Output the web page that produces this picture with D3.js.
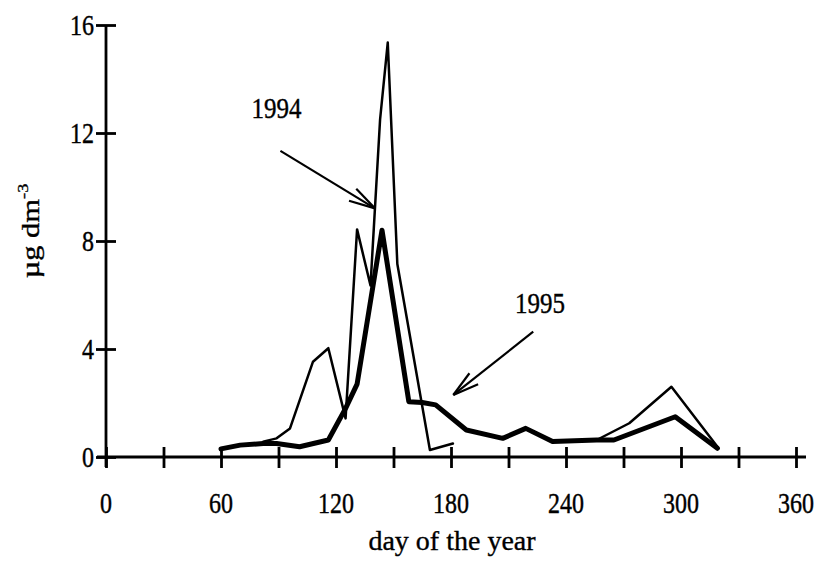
<!DOCTYPE html>
<html><head><meta charset="utf-8">
<script src="https://cdn.jsdelivr.net/npm/d3@7"></script>
<style>
html,body{margin:0;padding:0;background:#fff;}
text{font-family:"Liberation Serif","Times New Roman",serif;fill:#000;stroke:#000;stroke-width:0.35px;}
</style></head>
<body><svg id="c" width="817" height="566"></svg>
<script>
// ---- data ----
const days1994 = [82, 89, 96, 108, 116, 125, 131, 138, 143, 147, 152, 169, 181, 200, 256, 273, 295, 319];
const vals1994 = [0.57, 0.69, 1.06, 3.53, 4.03, 1.43, 8.43, 6.35, 12.5, 15.35, 7.15, 0.26, 0.5, null, 0.63, 1.25, 2.6, 0.38];
const days1995 = [60, 70, 82, 89, 101, 116, 125, 131, 144, 158, 165, 172, 188, 207, 219, 233, 256, 265, 297, 319];
const vals1995 = [0.3, 0.44, 0.5, 0.5, 0.38, 0.63, 1.8, 2.7, 8.4, 2.05, 2.02, 1.93, 1.0, 0.69, 1.06, 0.57, 0.63, 0.63, 1.49, 0.32];
const xTickMinor = [0, 30, 60, 90, 120, 150, 180, 210, 240, 270, 300, 330, 360];
const xTickLabels = [0, 60, 120, 180, 240, 300, 360];
const yTickLabels = [0, 4, 8, 12, 16];
const seriesNames = ["1994", "1995"];
const labelPos = [[89.0, 12.56], [226.4, 5.33]];        // label anchor in data units
const arrowFrom = [[91.0, 11.34], [222.9, 4.64]];
const arrowTo = [[140.3, 9.21], [181.2, 2.30]];
const xTitle = "day of the year";

// ---- drawing ----
const svg = d3.select("#c");
const x = d3.scaleLinear().domain([0, 360]).range([106, 796]);
const y = d3.scaleLinear().domain([0, 16]).range([457, 25]);
const SY = 1.22;

function txt(px, py, s, anchor, fs, sy) {
  return svg.append("text")
    .attr("transform", `translate(${px},${py}) scale(1,${sy || SY})`)
    .attr("text-anchor", anchor || "middle")
    .style("font-size", (fs || 24) + "px")
    .text(s);
}

// x axis
const gx = svg.append("g").attr("transform", `translate(0,${y(0)})`)
  .call(d3.axisBottom(x).tickValues(xTickMinor).tickSize(0).tickFormat(""));
gx.select(".domain").attr("d", `M97,0H806`).attr("stroke", "#000").attr("stroke-width", 2.8);
gx.selectAll(".tick line").attr("y1", -10).attr("y2", 11).attr("stroke", "#000").attr("stroke-width", 2.8);

// y axis
const gy = svg.append("g").attr("transform", `translate(${x(0)},0)`)
  .call(d3.axisLeft(y).tickValues(yTickLabels).tickSize(0).tickFormat(""));
gy.select(".domain").attr("d", `M0,${y(0) + 10}V${y(16)}`).attr("stroke", "#000").attr("stroke-width", 2.8);
gy.selectAll(".tick line").attr("x1", -10).attr("x2", 10).attr("stroke", "#000").attr("stroke-width", 2.8);

// tick labels
xTickLabels.forEach(v => txt(x(v), 513, String(v), "middle"));
yTickLabels.forEach(v => txt(94, y(v) + 10, String(v), "end"));

// titles
txt(452, 550, xTitle, "middle", 28, 1.0);
const yt = svg.append("text")
  .attr("transform", `translate(39,231) rotate(-90) scale(${SY},1)`)
  .attr("text-anchor", "middle")
  .style("font-size", "25px");
yt.append("tspan").text("µg dm");
yt.append("tspan").attr("dy", -11).style("font-size", "15px").text("-3");

// lines
const line = d3.line().defined(d => d[1] !== null).x(d => x(d[0])).y(d => y(d[1]));
const d94 = days1994.map((d, i) => [d, vals1994[i]]);
const d95 = days1995.map((d, i) => [d, vals1995[i]]);
svg.append("path").datum(d95).attr("d", line).attr("fill", "none")
  .attr("stroke", "#000").attr("stroke-width", 5).attr("stroke-linejoin", "round").attr("stroke-linecap", "round");
svg.append("path").datum(d94).attr("d", line).attr("fill", "none")
  .attr("stroke", "#000").attr("stroke-width", 2.5).attr("stroke-linejoin", "round").attr("stroke-linecap", "round");

// annotations
seriesNames.forEach((name, i) => {
  txt(x(labelPos[i][0]), y(labelPos[i][1]), name, "middle", 25);
  const x1 = x(arrowFrom[i][0]), y1 = y(arrowFrom[i][1]);
  const x2 = x(arrowTo[i][0]), y2 = y(arrowTo[i][1]);
  svg.append("line").attr("x1", x1).attr("y1", y1).attr("x2", x2).attr("y2", y2)
    .attr("stroke", "#000").attr("stroke-width", 2.2);
  const ang = Math.atan2(y1 - y2, x1 - x2), L = 27, da = 15 * Math.PI / 180;
  [ang - da, ang + da].forEach(a => {
    svg.append("line").attr("x1", x2).attr("y1", y2)
      .attr("x2", x2 + L * Math.cos(a)).attr("y2", y2 + L * Math.sin(a))
      .attr("stroke", "#000").attr("stroke-width", 2.2);
  });
});
</script></body></html>
